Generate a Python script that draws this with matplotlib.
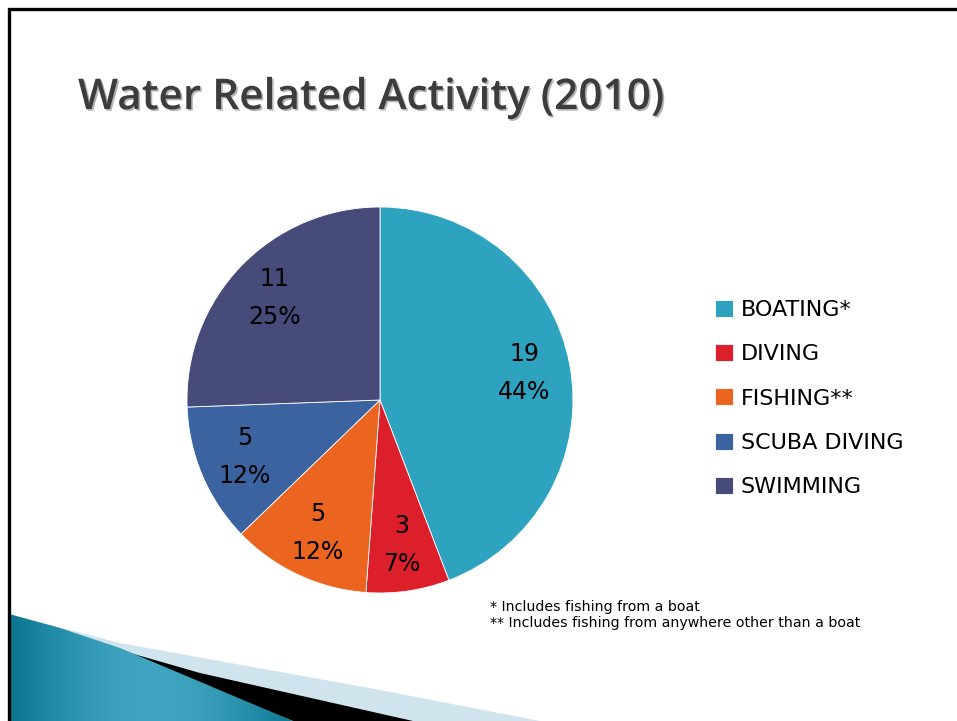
import matplotlib
matplotlib.use("Agg")
import matplotlib.pyplot as plt
import matplotlib.patheffects as pe
from matplotlib.patches import Polygon
from matplotlib.colors import LinearSegmentedColormap
import numpy as np

# ---- data ----
categories = ["BOATING*", "DIVING", "FISHING**", "SCUBA DIVING", "SWIMMING"]
values = [19, 3, 5, 5, 11]
pct_labels = ["44%", "7%", "12%", "12%", "25%"]
colors = ["#2ea3c0", "#dc1f2b", "#eb6420", "#3a63a0", "#464b7a"]
title = "Water Related Activity (2010)"
footnotes = ["* Includes fishing from a boat",
             "** Includes fishing from anywhere other than a boat"]

W, H = 957, 721
fig = plt.figure(figsize=(W / 100, H / 100), dpi=100)
fig.patch.set_facecolor("white")

# background axes in pixel coordinates
bg = fig.add_axes([0, 0, 1, 1])
bg.set_xlim(0, W)
bg.set_ylim(H, 0)
bg.axis("off")

# slide border
bg.plot([8.5, 8.5, W], [H, 8.5, 8.5], color="black", lw=2.4, solid_joinstyle="miter", zorder=5)

# decorative swoosh bottom-left
pale = Polygon([(9, 614), (120, 643), (380, 690), (540, 721), (9, 721)],
               closed=True, facecolor="#cfe4ec", edgecolor="none", zorder=1)
bg.add_patch(pale)
black = Polygon([(85, 640), (200, 673), (413, 721), (293, 721)],
                closed=True, facecolor="black", edgecolor="none", zorder=2)
bg.add_patch(black)
teal_poly = Polygon([(9, 614), (60, 628), (120, 648), (293, 721), (9, 721)],
                    closed=True, facecolor="none", edgecolor="none", zorder=3)
bg.add_patch(teal_poly)
xx = np.linspace(0, 1, 300)
grad = 0.5 + 0.5 * np.sin(xx * np.pi)
grad = np.tile(grad, (50, 1))
cm = LinearSegmentedColormap.from_list("teal", ["#0a7590", "#3fa4c0"])
im = bg.imshow(grad, cmap=cm, extent=(9, 300, 721, 610), aspect="auto", zorder=3)
im.set_clip_path(teal_poly)
bg.set_xlim(0, W)
bg.set_ylim(H, 0)

# title
bg.text(78, 109, title, fontsize=30.5, color="#3c3c3c", family="Open Sans",
        weight="semibold", ha="left", va="baseline", zorder=6,
        path_effects=[pe.withSimplePatchShadow(offset=(1.2, -1.2), shadow_rgbFace="#a0a0a0", alpha=0.8)])

# footnotes
for i, t in enumerate(footnotes):
    bg.text(490, 611 + i * 16, t, fontsize=10.2, color="black", family="DejaVu Sans",
            ha="left", va="baseline", zorder=6)

# pie
cx, cy, r = 380, 400, 193
ax = fig.add_axes([(cx - r) / W, (H - cy - r) / H, 2 * r / W, 2 * r / H])
wedges, _ = ax.pie(values, colors=colors, startangle=90, counterclock=False,
                   radius=1.0, wedgeprops=dict(linewidth=0.6, edgecolor="white"))
ax.set_xlim(-1, 1)
ax.set_ylim(-1, 1)
ax.set_aspect("equal")
ax.axis("off")

for w, v, p in zip(wedges, values, pct_labels):
    ang = np.deg2rad((w.theta1 + w.theta2) / 2)
    d = 0.76
    x, y = d * np.cos(ang), d * np.sin(ang)
    ax.text(x, y, f"{v}\n{p}", ha="center", va="center", fontsize=17,
            linespacing=1.75, family="DejaVu Sans", color="black")

# legend
leg = fig.legend(wedges, categories, loc="upper left",
                 bbox_to_anchor=(715 / W, 1 - 300 / H), frameon=False,
                 fontsize=16, handlelength=0.8, handleheight=0.8,
                 handletextpad=0.35, labelspacing=1.08, borderaxespad=0,
                 borderpad=0)
for t in leg.get_texts():
    t.set_family("DejaVu Sans")

fig.savefig("out.png", dpi=100)
